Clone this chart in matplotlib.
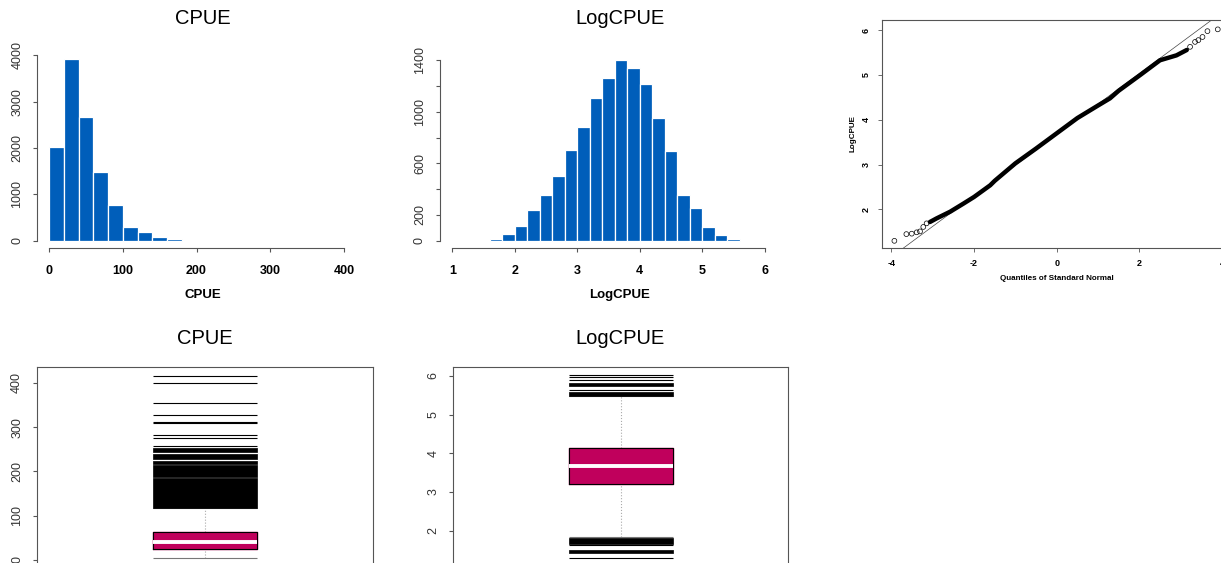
import matplotlib
matplotlib.use("Agg")
import matplotlib.pyplot as plt

plt.rcParams["font.family"] = ["Liberation Sans", "DejaVu Sans"]

W, H = 1221, 563
BLUE = "#005EBA"
BOX_FILL = "#C0005C"
AXIS_GREY = "#555555"

# histogram of CPUE (bin width 20)
CPUE_EDGES = [0, 20, 40, 60, 80, 100, 120, 140, 160, 180]
CPUE_COUNTS = [2030, 3918, 2665, 1490, 771, 290, 195, 86, 30]

# histogram of LogCPUE (bin width 0.2)
LOG_EDGES = [1.6, 1.8, 2.0, 2.2, 2.4, 2.6, 2.8, 3.0, 3.2, 3.4, 3.6,
             3.8, 4.0, 4.2, 4.4, 4.6, 4.8, 5.0, 5.2, 5.4, 5.6]
LOG_COUNTS = [10, 52, 114, 238, 357, 499, 706, 879, 1106, 1261, 1403,
              1336, 1217, 951, 698, 357, 251, 103, 44, 10]

# normal QQ plot of LogCPUE
QQ_X = [-3.07, -2.91, -2.58, -2.26, -2.0, -1.61, -1.5, -1.0, -0.5, 0.0,
        0.5, 1.0, 1.29, 1.5, 2.02, 2.5, 2.9, 3.15]
QQ_Y = [1.72, 1.80, 1.95, 2.13, 2.28, 2.54, 2.64, 3.03, 3.36, 3.70,
        4.04, 4.32, 4.48, 4.65, 5.00, 5.33, 5.44, 5.56]
QQ_TAIL_X = [-3.93, -3.64, -3.51, -3.39, -3.31, -3.23, -3.15,
             3.23, 3.35, 3.43, 3.53, 3.65, 3.90]
QQ_TAIL_Y = [1.30, 1.45, 1.46, 1.49, 1.51, 1.61, 1.69,
             5.63, 5.74, 5.78, 5.85, 5.98, 6.02]
QQ_LINE = (3.67, 0.682)  # intercept, slope

# boxplot summaries: lower whisker, Q1, median, Q3, upper whisker
CPUE_BOX = [5, 24, 41, 63, 117]
CPUE_OUT = [416, 399, 355, 327, 312, 308.6, 282, 276, 258]
CPUE_OUT_BANDS = [(243, 252), (228, 239), (217, 223), (187, 214), (117, 184)]

LOG_BOX = [1.84, 3.20, 3.68, 4.13, 5.47]
LOG_OUT = [6.03, 5.98, 5.89, 5.64, 1.62, 1.28]
LOG_OUT_BANDS = [(5.74, 5.81), (5.49, 5.58), (1.65, 1.82), (1.41, 1.50)]


def add_axes_px(fig, left, top, right, bottom):
    return fig.add_axes([left / W, 1 - bottom / H, (right - left) / W, (bottom - top) / H])


def fig_text(fig, x, y, s, **kw):
    fig.text(x / W, 1 - y / H, s, ha="center", va="center", **kw)


def r_axes(ax, xticks, yticks, ylabels=None):
    for side in ("top", "right"):
        ax.spines[side].set_visible(False)
    for side in ("left", "bottom"):
        ax.spines[side].set_color(AXIS_GREY)
        ax.spines[side].set_linewidth(0.8)
    ax.spines["bottom"].set_bounds(xticks[0], xticks[-1])
    ax.spines["left"].set_bounds(yticks[0], yticks[-1])
    ax.set_xticks(xticks)
    ax.set_xticklabels([str(t) for t in xticks], fontsize=9, fontweight="bold")
    ax.set_yticks(yticks)
    ax.set_yticklabels(ylabels if ylabels else [str(t) for t in yticks],
                       fontsize=9, rotation=90, va="center", color="#333333")
    ax.tick_params(length=3, width=0.8, color=AXIS_GREY)
    ax.tick_params(axis="x", pad=9)
    ax.tick_params(axis="y", pad=7)


def hist(ax, edges, counts):
    widths = [b - a for a, b in zip(edges[:-1], edges[1:])]
    ax.bar(edges[:-1], counts, width=widths, align="edge", color=BLUE,
           edgecolor="white", linewidth=0.9)


def boxplot(ax, stats, outliers, bands, width=0.31):
    lo, q1, med, q3, hi = stats
    x0, x1 = 1 - width / 2, 1 + width / 2
    ax.vlines(1, q3, hi, color="#AAAAAA", linestyle=":", linewidth=0.8)
    ax.vlines(1, lo, q1, color="#AAAAAA", linestyle=":", linewidth=0.8)
    ax.hlines([lo, hi], x0, x1, color="#777777", linewidth=0.8)
    ax.fill_between([x0, x1], q1, q3, color=BOX_FILL, zorder=3)
    ax.plot([x0, x1, x1, x0, x0], [q1, q1, q3, q3, q1], color="black", linewidth=0.8, zorder=4)
    ax.hlines(med, x0, x1, color="white", linewidth=2.8, zorder=5)
    ax.hlines(outliers, x0, x1, color="black", linewidth=0.8, zorder=4)
    for a, b in bands:
        ax.fill_between([x0, x1], a, b, color="black", linewidth=0.5, zorder=4)
    ax.set_xticks([])
    for s in ax.spines.values():
        s.set_color(AXIS_GREY)
        s.set_linewidth(0.8)


fig = plt.figure(figsize=(W / 100, H / 100), dpi=100)

# CPUE histogram
ax1 = add_axes_px(fig, 37.2, 52, 355.8, 248)
hist(ax1, CPUE_EDGES, CPUE_COUNTS)
ax1.set_xlim(-16, 416)
ax1.set_ylim(-156.7, 4074.7)
r_axes(ax1, [0, 100, 200, 300, 400], [0, 1000, 2000, 3000, 4000])
fig_text(fig, 203, 18, "CPUE", fontsize=14.5)
fig_text(fig, 203, 295, "CPUE", fontsize=9.5, fontweight="bold")

# LogCPUE histogram
ax2 = add_axes_px(fig, 439.8, 52.6, 777.1, 247.9)
hist(ax2, LOG_EDGES, LOG_COUNTS)
ax2.set_xlim(0.8, 6.2)
ax2.set_ylim(-56.1, 1459)
r_axes(ax2, [1, 2, 3, 4, 5, 6], [0, 200, 400, 600, 800, 1000, 1200, 1400],
       ["0", "200", "", "600", "", "1000", "", "1400"])
fig_text(fig, 620, 18, "LogCPUE", fontsize=14.5)
fig_text(fig, 620, 295, "LogCPUE", fontsize=9.5, fontweight="bold")

# normal QQ plot
ax3 = add_axes_px(fig, 882, 20.4, 1231.4, 248)
a, b = QQ_LINE
ax3.plot([-4.23, 4.23], [a - b * 4.23, a + b * 4.23], color="#444444", linewidth=0.5)
ax3.plot(QQ_X, QQ_Y, color="black", linewidth=3.2, solid_capstyle="round")
ax3.scatter(QQ_TAIL_X, QQ_TAIL_Y, s=12, facecolors="none", edgecolors="black", linewidths=0.5)
ax3.set_xlim(-4.23, 4.23)
ax3.set_ylim(1.14, 6.22)
ax3.set_xticks([-4, -2, 0, 2, 4])
ax3.set_yticks([2, 3, 4, 5, 6])
ax3.set_xticklabels(["-4", "-2", "0", "2", "4"], fontsize=6.5, fontweight="bold")
ax3.set_yticklabels(["2", "3", "4", "5", "6"], fontsize=6.5, fontweight="bold",
                    rotation=90, va="center")
ax3.tick_params(length=3, width=0.6, color=AXIS_GREY, pad=5)
for s in ax3.spines.values():
    s.set_color(AXIS_GREY)
    s.set_linewidth(0.8)
fig_text(fig, 1057, 278, "Quantiles of Standard Normal", fontsize=5.8, fontweight="bold")
fig_text(fig, 853, 134, "LogCPUE", fontsize=5.8, fontweight="bold", rotation=90)

# CPUE boxplot
ax4 = add_axes_px(fig, 37, 367.3, 373, 565.3)
boxplot(ax4, CPUE_BOX, CPUE_OUT, CPUE_OUT_BANDS)
ax4.set_xlim(0.5, 1.5)
ax4.set_ylim(-12, 435)
ax4.set_yticks([0, 100, 200, 300, 400])
ax4.set_yticklabels(["0", "100", "200", "300", "400"], fontsize=9, rotation=90,
                    va="center", color="#333333")
ax4.tick_params(length=3, width=0.8, color=AXIS_GREY, pad=7)
fig_text(fig, 205, 338, "CPUE", fontsize=14.5)

# LogCPUE boxplot
ax5 = add_axes_px(fig, 453.3, 366.7, 788.3, 565)
boxplot(ax5, LOG_BOX, LOG_OUT, LOG_OUT_BANDS)
ax5.set_xlim(0.5, 1.5)
ax5.set_ylim(1.11, 6.24)
ax5.set_yticks([2, 3, 4, 5, 6])
ax5.set_yticklabels(["2", "3", "4", "5", "6"], fontsize=9, rotation=90,
                    va="center", color="#333333")
ax5.tick_params(length=3, width=0.8, color=AXIS_GREY, pad=7)
fig_text(fig, 620, 338, "LogCPUE", fontsize=14.5)

fig.savefig("out.png", dpi=100)
